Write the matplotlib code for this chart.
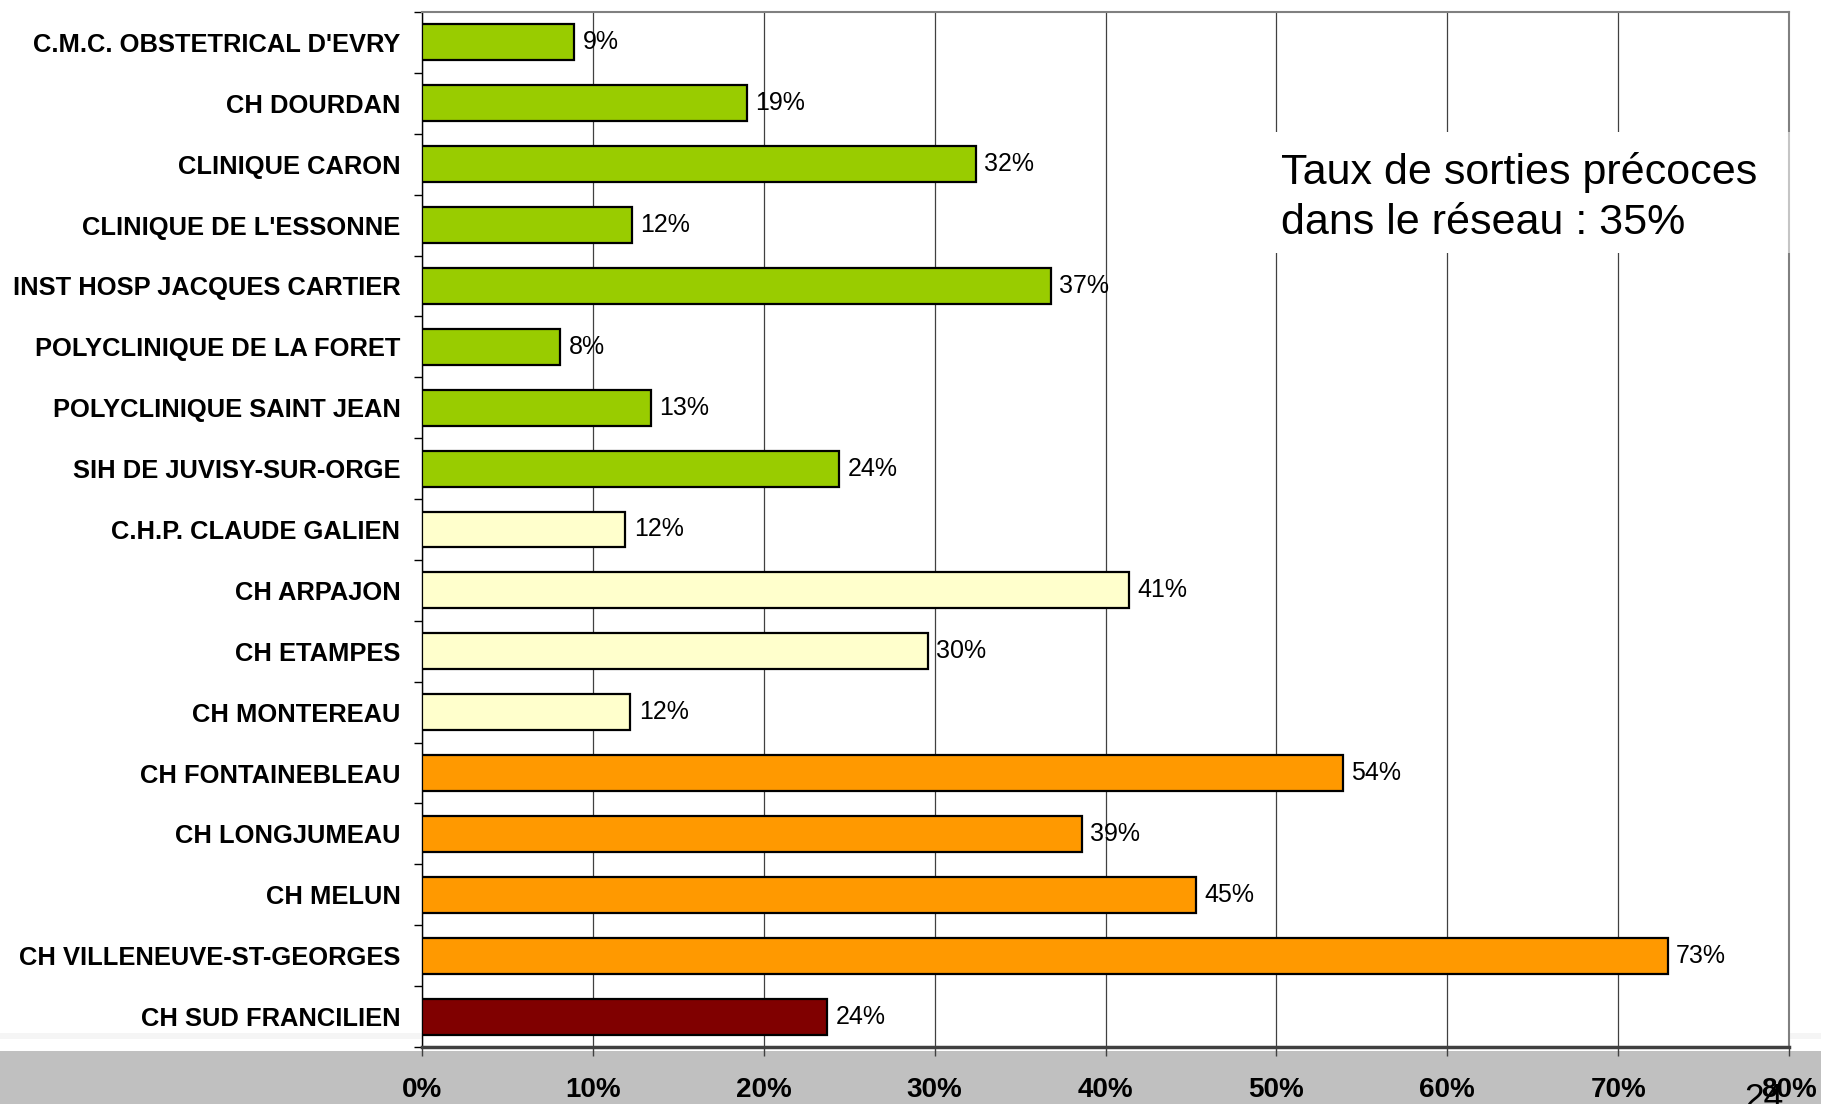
import matplotlib
matplotlib.use("Agg")
import matplotlib.pyplot as plt
from matplotlib.patches import Rectangle
import numpy as np

plt.rcParams['font.family'] = ['Liberation Sans', 'DejaVu Sans']

categories = [
    "C.M.C. OBSTETRICAL D'EVRY", "CH DOURDAN", "CLINIQUE CARON",
    "CLINIQUE DE L'ESSONNE", "INST HOSP JACQUES CARTIER",
    "POLYCLINIQUE DE LA FORET", "POLYCLINIQUE SAINT JEAN",
    "SIH DE JUVISY-SUR-ORGE", "C.H.P. CLAUDE GALIEN", "CH ARPAJON",
    "CH ETAMPES", "CH MONTEREAU", "CH FONTAINEBLEAU", "CH LONGJUMEAU",
    "CH MELUN", "CH VILLENEUVE-ST-GEORGES", "CH SUD FRANCILIEN",
]
values = [8.9, 19.0, 32.4, 12.3, 36.8, 8.1, 13.4, 24.4, 11.9, 41.4,
          29.6, 12.2, 53.9, 38.6, 45.3, 72.9, 23.7]
groups = ["g", "g", "g", "g", "g", "g", "g", "g", "y", "y", "y", "y",
          "o", "o", "o", "o", "r"]
group_colors = {"g": "#99CC00", "y": "#FFFFCC", "o": "#FF9900", "r": "#800000"}
xticks = [0, 10, 20, 30, 40, 50, 60, 70, 80]
xtick_labels = [f"{t}%" for t in xticks]
annotation_lines = ["Taux de sorties précoces", "dans le réseau : 35%"]
page_number = "24"

W, H = 1821, 1104
fig = plt.figure(figsize=(W / 100, H / 100), dpi=100)
fig.patch.set_facecolor("white")

# grey footer band and faint strip above it
fig.patches.append(Rectangle((0, 0), 1, (H - 1051) / H, transform=fig.transFigure,
                             facecolor="#C0C0C0", edgecolor="none", zorder=-1))
fig.patches.append(Rectangle((0, (H - 1039) / H), 1, 6 / H, transform=fig.transFigure,
                             facecolor="#F5F5F5", edgecolor="none", zorder=-1))

ax = fig.add_axes([422 / W, 57 / H, 1367 / W, 1035 / H])
ax.set_zorder(1)
ax.patch.set_facecolor("white")
ax.patch.set_alpha(1)

y = np.arange(len(categories))
ax.barh(y, values, height=0.59, color=[group_colors[g] for g in groups],
        edgecolor="black", linewidth=1.6, zorder=3)

for yi, v in zip(y, values):
    ax.annotate(f"{v:.0f}%", (v, yi), xytext=(6, 0), textcoords="offset points",
                va="center", ha="left", fontsize=18, zorder=4)

ax.set_xlim(0, 80)
ax.set_ylim(len(categories) - 0.5, -0.5)
ax.set_yticks(y)
ax.set_yticklabels(categories, fontsize=18.4, fontweight="bold")
ax.set_yticks(np.arange(len(categories) + 1) - 0.5, minor=True)
ax.tick_params(axis="y", which="major", length=0, pad=15.5)
ax.tick_params(axis="y", which="minor", length=6, width=1, color="black")

ax.set_xticks(xticks)
ax.set_xticklabels(xtick_labels, fontsize=20, fontweight="bold")
ax.tick_params(axis="x", length=6.5, width=1, color="#404040", pad=15)

ax.grid(axis="x", color="#404040", linewidth=0.9, zorder=0)
ax.set_axisbelow(True)

for s in ["top", "right"]:
    ax.spines[s].set_color("#808080")
    ax.spines[s].set_linewidth(1.5)
ax.spines["left"].set_color("black")
ax.spines["left"].set_linewidth(1.0)
ax.spines["bottom"].set_color("#404040")
ax.spines["bottom"].set_linewidth(2.5)

# white box behind annotation text
ax.add_patch(Rectangle((0.619, 0.7671), 0.3788, 0.117, transform=ax.transAxes,
                       facecolor="white", edgecolor="none", zorder=2))
ax.add_patch(Rectangle((0.9978, 0.7671), 0.004, 0.117, transform=ax.transAxes,
                       facecolor="white", edgecolor="none", alpha=0.55,
                       zorder=3, clip_on=False))
ax.text(0.6284, 0.8338, annotation_lines[0], transform=ax.transAxes, fontsize=31,
        va="baseline", ha="left", zorder=5)
ax.text(0.6284, 0.7855, annotation_lines[1], transform=ax.transAxes, fontsize=31,
        va="baseline", ha="left", zorder=5)

fig.text(1744 / W, -0.004, page_number, fontsize=25.5, ha="left", va="baseline")

fig.savefig("out.png", dpi=100)
